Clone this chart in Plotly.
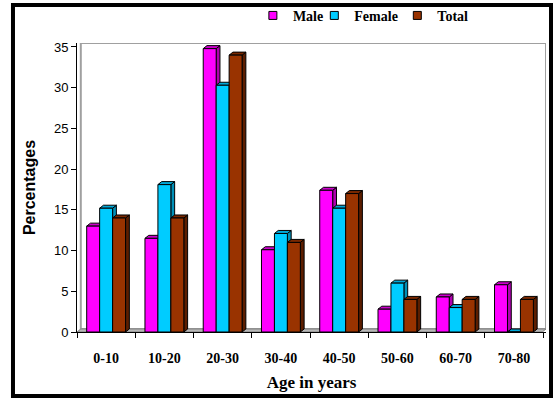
import plotly.graph_objects as go

categories = ["0-10", "10-20", "20-30", "30-40", "40-50", "50-60", "60-70", "70-80"]
male = [13.0, 11.5, 34.8, 10.1, 17.4, 2.8, 4.3, 5.8]
female = [15.2, 18.1, 30.3, 12.1, 15.2, 6.0, 3.0, 0.0]
total = [14.0, 14.0, 34.0, 11.0, 17.0, 4.0, 4.0, 4.0]

series = [
    ("Male", male, "#FF00FF", "#B000B0", "#CC00CC", "legend", 0.375),
    ("Female", female, "#00CCFF", "#0090B8", "#00A8D8", "legend2", 0.506),
    ("Total", total, "#993300", "#5C1E00", "#7A2800", "legend3", 0.683),
]

idx = list(range(len(categories)))
gap = 0.333
w = (1 - gap) / 3
dx = 0.065
dy = 0.37
YMAX = 35.49

fig = go.Figure()
shapes = []
legends = {}
for k, (name, vals, col, side, top, lg, lx) in enumerate(series):
    off = -1.5 * w + k * w
    fig.add_trace(go.Bar(
        x=idx, y=vals, width=w, offset=off, name=name,
        marker=dict(color=col, line=dict(color="black", width=1)),
        showlegend=False,
    ))
    for i, v in zip(idx, vals):
        x0 = i + off
        x1 = x0 + w
        shapes.append(dict(
            type="path", xref="x", yref="y", layer="below",
            path=f"M{x1},{0} L{x1},{v} L{x1+dx},{v+dy} L{x1+dx},{dy} Z",
            fillcolor=side, line=dict(color="black", width=1)))
        shapes.append(dict(
            type="path", xref="x", yref="y", layer="below",
            path=f"M{x0},{v} L{x0+dx},{v+dy} L{x1+dx},{v+dy} L{x1},{v} Z",
            fillcolor=top, line=dict(color="black", width=1)))
    fig.add_trace(go.Scatter(
        x=[None], y=[None], mode="markers", name=name, legend=lg,
        marker=dict(symbol="square", size=8, color=col, line=dict(color="black", width=1)),
    ))
    legends[lg] = dict(orientation="h", x=lx, xanchor="left", y=1.094, yanchor="middle",
                       font=dict(family="Liberation Serif", size=14, color="black", weight="bold"),
                       itemwidth=30, bgcolor="rgba(0,0,0,0)")

wall = [
    dict(type="rect", xref="x", yref="y", layer="below",
         x0=-0.5 + dx, x1=7.55, y0=dy, y1=YMAX,
         line=dict(color="#A0A0A0", width=2), fillcolor="white"),
    dict(type="path", xref="x", yref="y", layer="below",
         path=f"M-0.5,0 L{-0.5+dx},{dy} L7.55,{dy} L{7.55-dx},0 Z",
         fillcolor="#B8B8B8", line=dict(color="#808080", width=1)),
]
border = [dict(type="rect", xref="paper", yref="paper",
               x0=-0.1365, x1=1.0107, y0=-0.2215, y1=1.1315,
               line=dict(color="black", width=4))]

fig.update_layout(
    shapes=wall + shapes + border,
    width=553, height=400,
    margin=dict(l=77, r=7, t=43, b=68, autoexpand=False),
    paper_bgcolor="white", plot_bgcolor="white",
    barmode="overlay",
    **legends,
    xaxis=dict(range=[-0.5, 7.55], tickvals=idx, ticktext=categories, ticks="",
               showgrid=False, zeroline=False, showline=True, linecolor="black", linewidth=1,
               automargin=False, ticklabelstandoff=13,
               tickfont=dict(family="Liberation Serif", size=14, color="black", weight="bold"),
               minor=dict(tickvals=[i - 0.5 for i in range(9)], ticks="outside", ticklen=5,
                          tickcolor="black", showgrid=False),
               title=dict(text="Age in years", standoff=11,
                          font=dict(family="Liberation Serif", size=17, color="black", weight="bold"))),
    yaxis=dict(range=[0, YMAX], tickvals=[0, 5, 10, 15, 20, 25, 30, 35], ticks="outside",
               ticklen=5, tickcolor="black", showgrid=False, zeroline=False, showline=True,
               linecolor="black", linewidth=1, automargin=False,
               tickfont=dict(family="Liberation Sans", size=13, color="black"),
               title=dict(text="Percentages", standoff=14,
                          font=dict(family="Liberation Sans", size=16, color="black", weight="bold"))),
)

fig.write_html("out.html", config={"displayModeBar": False},
               post_script="document.body.style.margin='0';")
